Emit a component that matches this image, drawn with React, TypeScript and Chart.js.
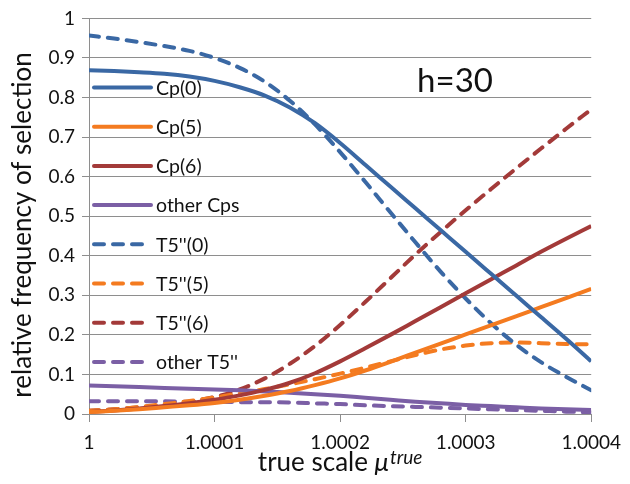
import React, { useEffect, useRef } from "react";
import { Chart, registerables } from "chart.js";

Chart.register(...registerables);

// x positions (true scale mu)
const muValues = [
  1, 1.00002, 1.00004, 1.00006, 1.00008, 1.0001, 1.00012, 1.00014, 1.00016, 1.00018, 1.0002,
  1.00022, 1.00024, 1.00026, 1.00028, 1.0003, 1.00032, 1.00034, 1.00036, 1.00038, 1.0004,
];
const xTickValues = [1, 1.0001, 1.0002, 1.0003, 1.0004];
const xTickLabels = ["1", "1.0001", "1.0002", "1.0003", "1.0004"];
const yTickValues = [0, 0.1, 0.2, 0.3, 0.4, 0.5, 0.6, 0.7, 0.8, 0.9, 1];
const yTickLabels = ["0", "0.1", "0.2", "0.3", "0.4", "0.5", "0.6", "0.7", "0.8", "0.9", "1"];

const seriesLabels = ["Cp(0)", "Cp(5)", "Cp(6)", "other Cps", "T5''(0)", "T5''(5)", "T5''(6)", "other T5''"];

const cp0 = [0.869, 0.867, 0.864, 0.86, 0.853, 0.842, 0.826, 0.805, 0.775, 0.735, 0.685, 0.63, 0.575, 0.52, 0.465, 0.41, 0.355, 0.3, 0.245, 0.19, 0.133];
const cp5 = [0.005, 0.008, 0.012, 0.017, 0.022, 0.028, 0.036, 0.046, 0.058, 0.073, 0.09, 0.11, 0.132, 0.155, 0.178, 0.201, 0.224, 0.247, 0.27, 0.293, 0.316];
const cp6 = [0.005, 0.009, 0.014, 0.02, 0.027, 0.036, 0.047, 0.061, 0.079, 0.103, 0.133, 0.166, 0.2, 0.235, 0.27, 0.305, 0.34, 0.375, 0.41, 0.443, 0.475];
const otherCps = [0.072, 0.07, 0.068, 0.066, 0.064, 0.062, 0.06, 0.057, 0.054, 0.05, 0.046, 0.041, 0.036, 0.031, 0.027, 0.023, 0.02, 0.017, 0.014, 0.012, 0.01];
const t5pp0 = [0.957, 0.949, 0.94, 0.93, 0.918, 0.9, 0.875, 0.84, 0.792, 0.732, 0.662, 0.587, 0.51, 0.434, 0.36, 0.292, 0.23, 0.176, 0.131, 0.094, 0.06];
const t5pp5 = [0.008, 0.012, 0.018, 0.025, 0.033, 0.042, 0.052, 0.063, 0.075, 0.088, 0.102, 0.117, 0.133, 0.149, 0.163, 0.173, 0.179, 0.181, 0.179, 0.177, 0.176];
const t5pp6 = [0.008, 0.012, 0.017, 0.023, 0.031, 0.043, 0.062, 0.09, 0.127, 0.172, 0.225, 0.283, 0.343, 0.403, 0.46, 0.515, 0.568, 0.62, 0.671, 0.721, 0.77];
const otherT5pp = [0.032, 0.032, 0.032, 0.032, 0.031, 0.031, 0.03, 0.03, 0.029, 0.027, 0.025, 0.022, 0.02, 0.018, 0.016, 0.014, 0.012, 0.01, 0.008, 0.006, 0.004];

const annotationText = "h=30";
const xTitleMain = "true scale ";
const xTitleSymbol = "\u03bc";
const xTitleSup = "true";
const yTitle = "relative frequency of selection";

const BLUE = "#3a68a4";
const ORANGE = "#f47b20";
const RED = "#a33a39";
const PURPLE = "#7b5fa5";
const FONT = "Lato, Carlito, 'Noto Sans', sans-serif";
const TEXT = "#111111";
const GRID = "#8e8e8e";

const seriesValues = [cp0, cp5, cp6, otherCps, t5pp0, t5pp5, t5pp6, otherT5pp];
const seriesColors = [BLUE, ORANGE, RED, PURPLE, BLUE, ORANGE, RED, PURPLE];
const seriesDashed = [false, false, false, false, true, true, true, true];
const DASH = [10, 9];

const overlayPlugin = {
  id: "overlay",
  afterDraw(chart: any) {
    const ctx = chart.ctx as CanvasRenderingContext2D;
    const area = chart.chartArea;
    ctx.save();
    // legend inside plot
    chart.data.datasets.forEach((ds: any, i: number) => {
      const y = 87.5 + i * 39.2;
      ctx.beginPath();
      ctx.lineWidth = 4;
      ctx.lineCap = "round";
      ctx.strokeStyle = ds.borderColor;
      ctx.setLineDash(ds.borderDash || []);
      ctx.moveTo(area.left + 5, y);
      ctx.lineTo(area.left + 62, y);
      ctx.stroke();
      ctx.setLineDash([]);
      ctx.fillStyle = TEXT;
      ctx.font = `19.5px ${FONT}`;
      ctx.textAlign = "left";
      ctx.textBaseline = "middle";
      ctx.fillText(ds.label, area.left + 67, y + 1);
    });
    // annotation
    ctx.font = `33px ${FONT}`;
    ctx.textAlign = "center";
    ctx.textBaseline = "middle";
    ctx.fillStyle = TEXT;
    ctx.fillText(annotationText, 455, 81);
    // x title
    const cx = (area.left + area.right) / 2;
    ctx.textBaseline = "alphabetic";
    ctx.textAlign = "left";
    ctx.font = `26px ${FONT}`;
    const w1 = ctx.measureText(xTitleMain).width;
    ctx.font = `italic 26px ${FONT}`;
    const w2 = ctx.measureText(xTitleSymbol).width;
    ctx.font = `italic 19px ${FONT}`;
    const w3 = ctx.measureText(xTitleSup).width;
    let x = cx - (w1 + w2 + 1 + w3) / 2;
    const base = 471;
    ctx.font = `26px ${FONT}`;
    ctx.fillText(xTitleMain, x, base);
    x += w1;
    ctx.font = `italic 26px ${FONT}`;
    ctx.fillText(xTitleSymbol, x, base);
    x += w2 + 1;
    ctx.font = `italic 19px ${FONT}`;
    ctx.fillText(xTitleSup, x, base - 7);
    // y title
    ctx.save();
    ctx.translate(23, 225);
    ctx.rotate(-Math.PI / 2);
    ctx.font = `26px ${FONT}`;
    ctx.textAlign = "center";
    ctx.textBaseline = "middle";
    ctx.fillText(yTitle, 0, 0);
    ctx.restore();
    ctx.restore();
  },
};

export default function App() {
  const ref = useRef<HTMLCanvasElement | null>(null);
  useEffect(() => {
    if (!ref.current) return;
    const datasets = seriesLabels.map((label, i) => ({
      label,
      data: muValues.map((m, j) => ({ x: m, y: seriesValues[i][j] })),
      borderColor: seriesColors[i],
      backgroundColor: seriesColors[i],
      borderWidth: 4,
      borderDash: seriesDashed[i] ? DASH : [],
      borderCapStyle: seriesDashed[i] ? "round" : "butt",
      pointRadius: 0,
      cubicInterpolationMode: "monotone",
      fill: false,
    }));
    const chart = new Chart(ref.current, {
      type: "line",
      data: { datasets } as any,
      options: {
        animation: false,
        responsive: false,
        devicePixelRatio: 1,
        layout: { padding: { top: 18, right: 32, left: 0, bottom: 0 } },
        plugins: { legend: { display: false }, tooltip: { enabled: false } },
        scales: {
          x: {
            type: "linear",
            min: 1,
            max: 1.0004,
            afterBuildTicks: (s: any) => {
              s.ticks = xTickValues.map((v) => ({ value: v }));
            },
            afterFit: (s: any) => {
              s.height = 70;
            },
            ticks: {
              callback: (_v: any, i: number) => xTickLabels[i],
              font: { family: FONT, size: 19 },
              color: TEXT,
              padding: 9,
              maxRotation: 0,
              autoSkip: false,
            },
            grid: { drawOnChartArea: false, drawTicks: true, tickLength: 8, color: GRID, lineWidth: 1 },
            border: { display: true, color: GRID, width: 1 },
          },
          y: {
            type: "linear",
            min: 0,
            max: 1,
            afterBuildTicks: (s: any) => {
              s.ticks = yTickValues.map((v) => ({ value: v }));
            },
            afterFit: (s: any) => {
              s.width = 89;
            },
            ticks: {
              callback: (_v: any, i: number) => yTickLabels[i],
              font: { family: FONT, size: 19 },
              color: TEXT,
              padding: 7,
              autoSkip: false,
            },
            grid: { drawTicks: true, tickLength: 7, color: GRID, lineWidth: 1 },
            border: { display: true, color: GRID, width: 1 },
          },
        },
      } as any,
      plugins: [overlayPlugin],
    });
    return () => chart.destroy();
  }, []);
  return (
    <div style={{ position: "fixed", left: 0, top: 0, width: 630, height: 484, background: "#fff" }}>
      <canvas ref={ref} width={630} height={484} style={{ width: 630, height: 484 }} />
    </div>
  );
}
